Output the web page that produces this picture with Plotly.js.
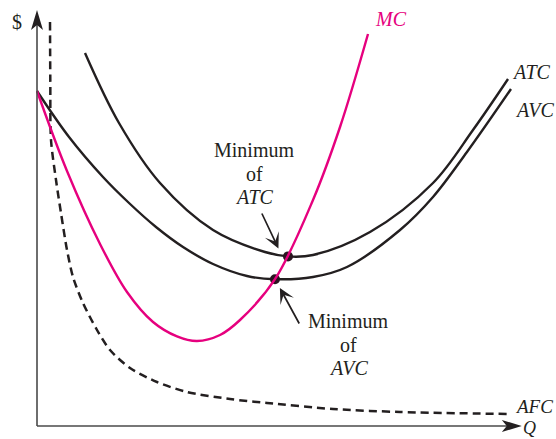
<!DOCTYPE html>
<html>
<head>
<meta charset="utf-8">
<script src="https://cdn.plot.ly/plotly-3.0.1.min.js"></script>
<style>html,body{margin:0;padding:0;background:#fff;}#chart{width:556px;height:439px;}</style>
</head>
<body>
<div id="chart"></div>
<script>
// Quantity (Q) and cost ($) values
var mcQ   = [0, 6.25, 13.13, 18.75, 24.17, 29.17, 33.33, 38.13, 42.29, 49.58, 57.5, 63.13, 68.96];
var mcC   = [83.75, 63.75, 45.5, 33.5, 26, 22.4, 21.25, 22.75, 26.5, 36.7, 56.5, 74.75, 98];

var atcQ  = [10, 17.08, 25.63, 36.67, 47.5, 52.29, 57.5, 69.38, 82.5, 90.83, 98.13];
var atcC  = [93.25, 75.75, 60.75, 49, 43.5, 42.4, 42.75, 48.5, 60.75, 74, 86.75];

var avcQ  = [0, 6.67, 13.75, 19.17, 24.79, 30.42, 36.67, 43.75, 49.58, 57.5, 64.58, 75.63, 82.5, 89.58, 98.75];
var avcC  = [83.75, 72.25, 62.25, 55.75, 49.75, 44.75, 40.5, 37.5, 36.7, 37.25, 39.75, 49, 57.25, 68.5, 84.25];

var afcQ  = [2.71, 2.77, 2.92, 3.96, 5, 6.25, 7.5, 9.58, 12.5, 15.21, 19.38, 25, 31.25, 40.21, 47.92, 61.67, 75.63, 98.54];
var afcC  = [101, 86.5, 71.5, 61.5, 53.25, 44, 37.25, 30.75, 24, 19, 14.5, 11, 8.5, 6.75, 5.75, 4.25, 3.5, 3];

var minQ  = [52.29, 49.58];   // minimum of ATC, minimum of AVC
var minC  = [42.4, 36.7];

var curveNames = ['MC', 'ATC', 'AVC', 'AFC'];

var INK = '#231f20';
var MAG = '#e6007e';
var AXIS = '#4a4a4a';
var SERIF = 'Liberation Serif, Times New Roman, serif';

var traces = [
  {x: afcQ, y: afcC, mode: 'lines', name: 'AFC', line: {color: INK, width: 2.5, dash: '8px,5px', shape: 'spline', smoothing: 0.8}},
  {x: atcQ, y: atcC, mode: 'lines', name: 'ATC', line: {color: INK, width: 2.4, shape: 'spline', smoothing: 1}},
  {x: avcQ, y: avcC, mode: 'lines', name: 'AVC', line: {color: INK, width: 2.4, shape: 'spline', smoothing: 1}},
  {x: minQ, y: minC, mode: 'markers', name: 'minima', marker: {color: '#2a1520', size: 10}},
  {x: mcQ, y: mcC, mode: 'lines', name: 'MC', line: {color: MAG, width: 2.4, shape: 'spline', smoothing: 1}}
];

var yTop = 104, xEnd = 101;

var shapes = [
  {type: 'line', xref: 'x', yref: 'y', x0: 0, y0: 0, x1: 0, y1: yTop - 3, line: {color: AXIS, width: 1.6}},
  {type: 'line', xref: 'x', yref: 'y', x0: 0, y0: 0, x1: xEnd - 2, y1: 0, line: {color: AXIS, width: 1.6}},
  {type: 'path', xref: 'x', yref: 'y', xsizemode: 'pixel', ysizemode: 'pixel', xanchor: 0, yanchor: yTop,
   path: 'M0,0 L-6,-20 L0,-15 L6,-20 Z', fillcolor: INK, line: {width: 0}},
  {type: 'path', xref: 'x', yref: 'y', xsizemode: 'pixel', ysizemode: 'pixel', xanchor: xEnd, yanchor: 0,
   path: 'M0,0 L-20,6 L-15,0 L-20,-6 Z', fillcolor: INK, line: {width: 0}}
];

function px(p) { return p / 556; }
function py(p) { return 1 - p / 439; }
function label(text, xp, yp, opts) {
  opts = opts || {};
  return {
    xref: 'paper', yref: 'paper', x: px(xp), y: py(yp),
    text: text, showarrow: false, xanchor: 'center', yanchor: 'middle',
    font: {family: SERIF, size: opts.size || 20, color: opts.color || INK}
  };
}

var annotations = [
  // pointer arrows to minima
  {x: 50.3, y: 44.4, ax: 46.7, ay: 53.5, xref: 'x', yref: 'y', axref: 'x', ayref: 'y', text: '', showarrow: true,
   arrowhead: 3, arrowsize: 1.5, arrowwidth: 1.7, arrowcolor: INK},
  {x: 50.6, y: 34.5, ax: 54.8, ay: 25.25, xref: 'x', yref: 'y', axref: 'x', ayref: 'y', text: '', showarrow: true,
   arrowhead: 3, arrowsize: 1.5, arrowwidth: 1.7, arrowcolor: INK},
  // text labels
  label('$', 17, 22),
  label('<i>Q</i>', 529, 428, {size: 18}),
  label('<i>' + curveNames[0] + '</i>', 391, 19, {color: MAG}),
  label('<i>' + curveNames[1] + '</i>', 531, 72),
  label('<i>' + curveNames[2] + '</i>', 534, 110),
  label('<i>' + curveNames[3] + '</i>', 534, 406.5, {size: 19}),
  label('Minimum', 254, 150),
  label('of', 254, 174),
  label('<i>ATC</i>', 254, 197),
  label('Minimum', 348, 321),
  label('of', 348, 345),
  label('<i>AVC</i>', 348, 368)
];

var layout = {
  width: 556, height: 439,
  margin: {l: 0, r: 0, t: 0, b: 0},
  paper_bgcolor: '#ffffff', plot_bgcolor: '#ffffff',
  showlegend: false,
  xaxis: {range: [-37 / 4.8, 519 / 4.8], visible: false, fixedrange: true},
  yaxis: {range: [-13 / 4, 426 / 4], visible: false, fixedrange: true},
  shapes: shapes,
  annotations: annotations
};

Plotly.newPlot('chart', traces, layout, {displayModeBar: false, staticPlot: true});
</script>
</body>
</html>
